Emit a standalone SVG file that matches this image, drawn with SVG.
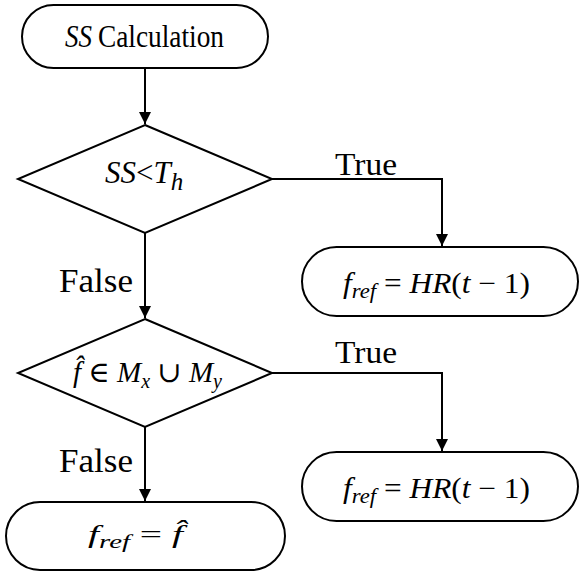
<svg xmlns="http://www.w3.org/2000/svg" width="579" height="572" viewBox="0 0 579 572">
<style>
.shape{fill:#fff;stroke:#000;stroke-width:2}
.conn{fill:none;stroke:#000;stroke-width:2}
.t{font-family:'Liberation Serif','Times New Roman','DejaVu Serif',serif;fill:#000}
.i{font-style:italic}
</style>
<defs>
<marker id="ah" viewBox="0 0 12 12" refX="12" refY="6" markerWidth="12" markerHeight="12" markerUnits="userSpaceOnUse" orient="auto">
<path d="M0,0 L12,6 L0,12 Z" fill="#000"/>
</marker>
</defs>
<rect width="579" height="572" fill="#fff"/>
<g id="connectors">
<path class="conn" d="M145,68 V124" marker-end="url(#ah)"/>
<path class="conn" d="M145,233 V318" marker-end="url(#ah)"/>
<path class="conn" d="M272,179 H442 V246" marker-end="url(#ah)"/>
<path class="conn" d="M272,373 H442 V451" marker-end="url(#ah)"/>
<path class="conn" d="M145,427 V501" marker-end="url(#ah)"/>
<text class="t" x="335" y="175" font-size="32" textLength="62" lengthAdjust="spacingAndGlyphs">True</text>
<text class="t" x="335" y="363" font-size="32" textLength="62" lengthAdjust="spacingAndGlyphs">True</text>
<text class="t" x="59" y="292" font-size="33" textLength="74" lengthAdjust="spacingAndGlyphs">False</text>
<text class="t" x="59" y="472" font-size="33" textLength="74" lengthAdjust="spacingAndGlyphs">False</text>
</g>
<g id="start">
<rect class="shape" x="22" y="5" width="246" height="63" rx="31.5" ry="31.5"/>
<text class="t i" x="65" y="47" font-size="31" textLength="27" lengthAdjust="spacingAndGlyphs">SS</text>
<text class="t" x="98" y="47" font-size="31" textLength="126" lengthAdjust="spacingAndGlyphs">Calculation</text>
</g>
<g id="decision1">
<polygon class="shape" points="145,125 272,179 145,233 18,179"/>
<text class="t" x="105" y="183" font-size="31"><tspan class="i">SS</tspan>&lt;<tspan class="i">T</tspan><tspan class="i" font-size="25" dy="7">h</tspan></text>
</g>
<g id="decision2">
<polygon class="shape" points="145,319 272,373 145,427 18,373"/>
<text class="t" x="73" y="382" font-size="29" textLength="149" lengthAdjust="spacingAndGlyphs"><tspan class="i">f̂</tspan> ∈ <tspan class="i">M</tspan><tspan class="i" font-size="20" dy="6">x</tspan><tspan dy="-6"> ∪ </tspan><tspan class="i">M</tspan><tspan class="i" font-size="20" dy="6">y</tspan></text>
</g>
<g id="result1">
<rect class="shape" x="302" y="247" width="276" height="69" rx="34.5" ry="34.5"/>
<text class="t" x="343" y="293" font-size="29" textLength="187" lengthAdjust="spacingAndGlyphs"><tspan class="i">f</tspan><tspan class="i" font-size="21" dy="5">ref</tspan><tspan dy="-5"> = </tspan><tspan class="i">HR</tspan>(<tspan class="i">t</tspan> − 1)</text>
</g>
<g id="result2">
<rect class="shape" x="302" y="452" width="276" height="69" rx="34.5" ry="34.5"/>
<text class="t" x="343" y="498" font-size="29" textLength="187" lengthAdjust="spacingAndGlyphs"><tspan class="i">f</tspan><tspan class="i" font-size="21" dy="5">ref</tspan><tspan dy="-5"> = </tspan><tspan class="i">HR</tspan>(<tspan class="i">t</tspan> − 1)</text>
</g>
<g id="end">
<rect class="shape" x="6" y="502" width="279" height="68" rx="34" ry="34"/>
<text class="t" x="88" y="543" font-size="26" textLength="95" lengthAdjust="spacingAndGlyphs"><tspan class="i">f</tspan><tspan class="i" font-size="19" dy="5">ref</tspan><tspan dy="-5"> = </tspan><tspan class="i">f̂</tspan></text>
</g>
</svg>
